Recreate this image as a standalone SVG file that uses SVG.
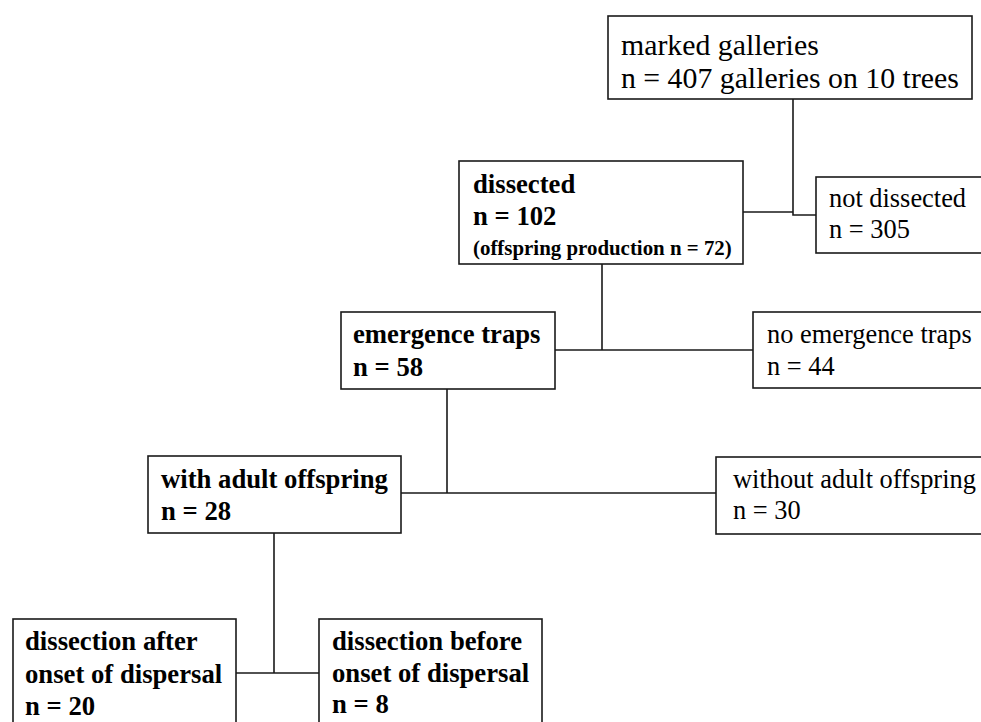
<svg xmlns="http://www.w3.org/2000/svg" width="981" height="722" viewBox="0 0 981 722">
<style>
.box{fill:#fff;stroke:#1a1a1a;stroke-width:1.6}
.ln{fill:none;stroke:#1a1a1a;stroke-width:1.6}
.r{font-family:"Liberation Serif","Times New Roman",serif;font-size:26.4px;fill:#000}
.b{font-family:"Liberation Serif","Times New Roman",serif;font-size:26.7px;font-weight:bold;fill:#000}
</style>
<rect width="981" height="722" fill="#fff"/>
<g id="connectors">
<path class="ln" d="M743 212 H793 V99 M793 212 V215 H816"/>
<path class="ln" d="M602 264 V350 M555 350 H753"/>
<path class="ln" d="M447 389 V493 M401 493 H716"/>
<path class="ln" d="M274 533 V673 M236 673 H319"/>
</g>
<g id="marked">
<rect class="box" x="608" y="16" width="364" height="83"/>
<text class="r" x="621" y="55" style="font-size:29.8px">marked galleries</text>
<text class="r" x="621" y="88" style="font-size:29.8px">n = 407 galleries on 10 trees</text>
</g>
<g id="dissected">
<rect class="box" x="459" y="161" width="284" height="103"/>
<text class="b" x="473" y="193">dissected</text>
<text class="b" x="473" y="225">n = 102</text>
<text class="b" x="473" y="255" style="font-size:20.9px">(offspring production n = 72)</text>
</g>
<g id="notdissected">
<rect class="box" x="816" y="177" width="180" height="76"/>
<text class="r" x="829" y="207">not dissected</text>
<text class="r" x="829" y="238">n = 305</text>
</g>
<g id="emergence">
<rect class="box" x="341" y="312" width="214" height="77"/>
<text class="b" x="353" y="343">emergence traps</text>
<text class="b" x="353" y="376">n = 58</text>
</g>
<g id="noemergence">
<rect class="box" x="753" y="312" width="240" height="76"/>
<text class="r" x="767" y="343">no emergence traps</text>
<text class="r" x="767" y="375">n = 44</text>
</g>
<g id="withadult">
<rect class="box" x="148" y="456" width="253" height="77"/>
<text class="b" x="161" y="488">with adult offspring</text>
<text class="b" x="161" y="520">n = 28</text>
</g>
<g id="withoutadult">
<rect class="box" x="716" y="457" width="280" height="77"/>
<text class="r" x="733" y="488">without adult offspring</text>
<text class="r" x="733" y="519">n = 30</text>
</g>
<g id="after">
<rect class="box" x="13" y="619" width="223" height="120"/>
<text class="b" x="25" y="650">dissection after</text>
<text class="b" x="25" y="683">onset of dispersal</text>
<text class="b" x="25" y="715">n = 20</text>
</g>
<g id="before">
<rect class="box" x="319" y="619" width="223" height="120"/>
<text class="b" x="332" y="650">dissection before</text>
<text class="b" x="332" y="682">onset of dispersal</text>
<text class="b" x="332" y="713">n = 8</text>
</g>
</svg>
